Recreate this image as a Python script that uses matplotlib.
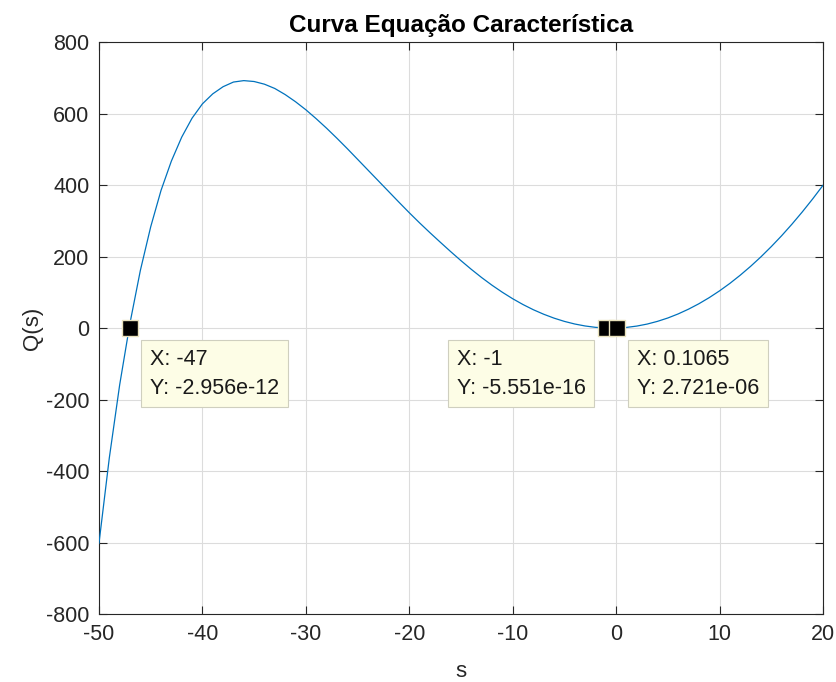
import matplotlib.pyplot as plt

# curve
s_vals = [-50, -49, -48, -47, -46, -45, -44, -43, -42, -41,
          -40, -39, -38, -37, -36, -35, -34, -33, -32, -31,
          -30, -29, -28, -27, -26, -25, -24, -23, -22, -21,
          -20, -19, -18, -17, -16, -15, -14, -13, -12, -11,
          -10, -9, -8, -7, -6, -5, -4, -3, -2, -1,
          -0.5, 0.1065, 1, 2, 3, 4, 5, 6, 7, 8,
          9, 10, 11, 12, 13, 14, 15, 16, 17, 18,
          19, 20]
q_vals = [-602, -363, -159, 14, 161, 283, 385, 467, 534, 587,
          627, 655, 675, 688, 692, 689.5, 682, 670, 653, 633,
          610.5, 585.5, 559, 531, 502, 472, 442, 412, 382, 352,
          322.5, 294, 266.6, 240, 213.8, 188.4, 164.1, 141.1, 119.7, 100,
          81.9, 65.6, 51.1, 38.5, 27.6, 18.5, 11.2, 5.7, 1.9, 0,
          -0.3, 0, 1.7, 5.4, 11, 18.6, 28, 39.4, 52.7, 67.8,
          84.9, 103.9, 124.8, 147.7, 172.4, 199, 227.6, 258, 290.4, 324.7,
          360.9, 399]

# data tips
tip_x = [-47, -1, 0.1065]
tip_y = [-2.956e-12, -5.551e-16, 2.721e-06]
tip_side = ['right', 'left', 'right']

x_ticks = [-50, -40, -30, -20, -10, 0, 10, 20]
y_ticks = [-800, -600, -400, -200, 0, 200, 400, 600, 800]

plt.rcParams['font.family'] = ['Liberation Sans', 'DejaVu Sans']
plt.rcParams['axes.unicode_minus'] = False

fig = plt.figure(figsize=(8.36, 6.82), dpi=100)
ax = fig.add_axes([0.1184, 0.0997, 0.8660, 0.8387])

ax.plot(s_vals, q_vals, color='#0072BD', lw=0.9, zorder=3)
ax.plot(tip_x, [0, 0, 0], 's', ms=11, mfc='black', mec='#e9e2bd', mew=1, zorder=4)

for x, y, side in zip(tip_x, tip_y, tip_side):
    label = f"X: {x:.4g}\nY: {y:.4g}"
    dx = 14.3 if side == 'right' else -14.5
    ax.annotate(label, xy=(x, 0), xytext=(dx, -14.8), textcoords='offset points',
                ha='left' if side == 'right' else 'right', va='top',
                multialignment='left', fontsize=15.5, color='#1a1a1a',
                linespacing=1.5, zorder=5,
                bbox=dict(boxstyle='square,pad=0.4', fc='#fdfde6', ec='#cfcfbf', lw=0.8))

ax.set_xlim(-50, 20)
ax.set_ylim(-800, 800)
ax.set_xticks(x_ticks)
ax.set_yticks(y_ticks)
ax.grid(True, color='#dcdcdc', lw=0.8)
ax.set_axisbelow(True)
ax.tick_params(direction='in', length=6, width=0.8, top=True, right=True,
               labelsize=15.5, colors='#262626', pad=7)
for sp in ax.spines.values():
    sp.set_color('#262626')
    sp.set_linewidth(0.8)

ax.set_xlabel('s', fontsize=16, color='#262626', labelpad=12)
ax.set_ylabel('Q(s)', fontsize=16, color='#262626', labelpad=2)
ax.set_title('Curva Equação Característica', fontsize=17.5, fontweight='bold', pad=7)

fig.savefig('out.png', dpi=100)
